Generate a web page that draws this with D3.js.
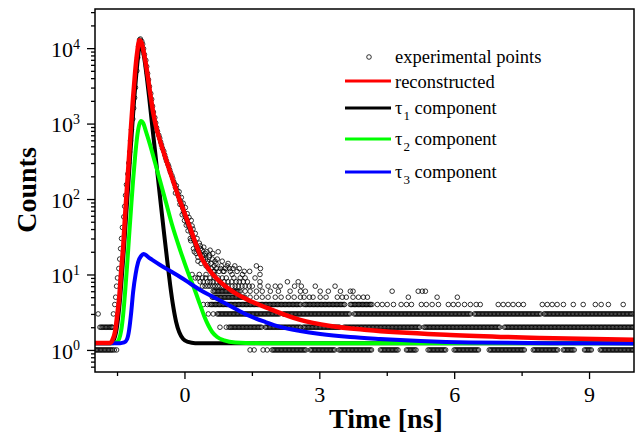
<!DOCTYPE html>
<html>
<head>
<meta charset="utf-8">
<script src="https://cdnjs.cloudflare.com/ajax/libs/d3/7.8.5/d3.min.js"></script>
<style>
body { margin: 0; background: #fff; }
text { font-family: "Liberation Serif", "Times New Roman", serif; }
</style>
</head>
<body>
<script>
const width = 642;
const height = 434;

// axis ticks
const xMajor = [0, 3, 6, 9];
const xMinor = [-1.5, 1.5, 4.5, 7.5];
const yMajor = [1, 10, 100, 1000, 10000];
const yMinor = [0.6, 0.7, 0.8, 0.9, 2, 3, 4, 5, 6, 7, 8, 9, 20, 30, 40, 50, 60, 70, 80, 90,
	200, 300, 400, 500, 600, 700, 800, 900, 2000, 3000, 4000, 5000, 6000, 7000, 8000, 9000, 20000, 30000];

// fitted curves [time ns, counts]
const reconstructed = [[-1.99,1.24],[-1.65,1.24],[-1.60,1.36],[-1.54,1.79],[-1.50,2.74],[-1.45,5.04],
	[-1.41,10.8],[-1.36,24.6],[-1.32,61.4],[-1.275,153],[-1.23,383],[-1.186,955],[-1.142,2244],
	[-1.097,4808],[-1.053,8590],[-1.002,12760],[-0.953,11650],[-0.897,8330],[-0.83,4808],[-0.763,2535],
	[-0.697,1420],[-0.63,899],[-0.541,586],[-0.407,329],[-0.274,190],[-0.14,110],[-0.007,67.3],
	[0.127,41.3],[0.263,24.6],[0.349,18.1],[0.572,11.1],[0.795,7.96],[1.084,5.86],[1.462,4.46],
	[1.84,3.6],[2.575,2.5],[3.245,2.08],[4.069,1.84],[5.916,1.58],[7.919,1.44],[10,1.36]];

const tau1 = [[-1.99,1.23],[-1.632,1.23],[-1.576,1.336],[-1.52,1.73],[-1.476,2.65],[-1.431,4.88],
	[-1.387,10.5],[-1.342,23.8],[-1.298,59.6],[-1.253,144],[-1.209,360],[-1.164,872],[-1.12,2047],
	[-1.075,4256],[-1.03,7834],[-0.99,11300],[-0.953,10620],[-0.919,8850],[-0.875,6140],[-0.83,3770],
	[-0.786,2244],[-0.719,955],[-0.652,419],[-0.585,178.6],[-0.519,78.3],[-0.452,34.4],[-0.385,15.6],
	[-0.318,7.26],[-0.252,3.83],[-0.185,2.35],[-0.118,1.73],[-0.029,1.40],[0.082,1.276],[0.238,1.23],[10,1.23]];

const tau2 = [[-1.99,1.23],[-1.587,1.23],[-1.498,1.276],[-1.453,1.399],[-1.409,1.785],[-1.364,2.908],
	[-1.32,5.86],[-1.275,13.36],[-1.231,32.4],[-1.186,78.3],[-1.142,178.6],[-1.097,371],[-1.053,663],
	[-1.008,955],[-0.964,1079],[-0.919,1016],[-0.852,771],[-0.763,519],[-0.652,300],[-0.541,173],
	[-0.407,88.5],[-0.274,45.2],[-0.096,21.1],[0.082,10.5],[0.238,6.04],[0.349,3.95],[0.438,2.82],
	[0.527,2.14],[0.617,1.73],[0.728,1.486],[0.884,1.336],[1.131,1.253],[1.687,1.23],[10,1.23]];

const tau3 = [[-1.99,1.23],[-1.431,1.23],[-1.342,1.257],[-1.275,1.399],[-1.231,1.84],[-1.186,3.09],
	[-1.142,5.86],[-1.086,10.15],[-1.03,14.64],[-0.964,17.58],[-0.913,18.69],[-0.763,16.3],[-0.541,13.36],
	[-0.318,11.12],[-0.096,9.27],[0.127,7.6],[0.349,6.23],[0.639,5.04],[1.017,3.83],[1.395,2.91],
	[1.796,2.35],[2.13,2.02],[2.575,1.785],[3.02,1.63],[3.688,1.486],[4.356,1.40],[5.246,1.316],
	[6.359,1.257],[8.14,1.23],[10,1.22]];

// experimental points along the peak [time ns, counts]
const expTrack = [[-1.61,2],[-1.58,3],[-1.55,4],[-1.53,5],[-1.51,7],[-1.49,9],[-1.46,12],[-1.44,16],
	[-1.42,22],[-1.40,30],[-1.38,42],[-1.35,58],[-1.33,80],[-1.31,112],[-1.29,155],[-1.26,215],
	[-1.24,300],[-1.22,420],[-1.20,590],[-1.18,830],[-1.15,1150],[-1.13,1600],[-1.11,2200],[-1.09,3000],
	[-1.06,5000],[-1.04,7500],[-1.02,10500],[-1.00,12800],[-0.98,13200],[-0.95,12300],[-0.93,11300],
	[-0.91,9800],[-0.89,8200],[-0.86,6900],[-0.84,5700],[-0.82,4600],[-0.80,3800],[-0.78,3100],
	[-0.75,2500],[-0.73,2100],[-0.71,1700],[-0.69,1420],[-0.66,1200],[-0.64,1020],[-0.62,880],
	[-0.60,790],[-0.57,700],[-0.55,640],[-0.53,570],[-0.51,520],[-0.49,470],[-0.46,430],[-0.44,385],
	[-0.42,350],[-0.40,320],[-0.37,290],[-0.35,270],[-0.33,245],[-0.31,225],[-0.28,205],[-0.26,188],
	[-0.24,170],[-0.22,158],[-0.20,142],[-0.17,132],[-0.15,118],[-0.13,108],[-0.11,97],[-0.08,90],
	[-0.06,82],[-0.04,76],[-0.02,68],[0.00,63],[0.03,57],[0.05,53],[0.07,48],[0.09,45],[0.12,41],
	[0.14,38],[0.16,35],[0.18,32],[0.20,29],[0.23,27],[0.25,25],[0.27,23],[0.29,22],[0.32,20],[0.34,19]];

// scattered experimental points in the decay
const expScatter = [[-0.18,150],[-0.12,125],[-0.07,105],[-0.03,88],[0.02,77],[0.06,64],[0.10,57],
	[0.15,52],[0.17,44],[0.13,30],[0.04,45],[-0.05,62],[0.19,40],[0.24,35],[0.26,19],[0.22,20],
	[0.28,30],[0.33,26],[0.35,24],[0.37,14],[0.39,21],[0.42,16],[0.44,18],[0.46,19],[0.48,13],
	[0.51,15],[0.53,12],[0.55,17],[0.57,21],[0.59,14],[0.62,16],[0.64,11],[0.66,13],[0.68,15],
	[0.71,12],[0.75,20],[0.77,11],[0.82,13],[0.86,11],[0.91,12],[0.97,14],[1.02,11],[1.08,12],
	[1.17,11],[1.33,11],[1.69,12],
	[-0.20,120],[-0.10,85],[0.00,52],[0.08,38],[0.14,28],[0.20,22],[0.30,15],
	[0.30,17],[0.36,22],[0.40,18],[0.43,23],[0.47,16],[0.50,20],[0.52,14],[0.56,18],[0.60,12],
	[0.63,19],[0.67,11],[0.70,14],[0.73,16],[0.80,12],[0.84,15],[0.88,11],[0.95,13],[1.00,12],
	[1.12,13],[1.22,12],[1.45,11],[1.60,13]];

// dense runs of points at one count level [counts, from ns, to ns]
const expRuns = [
	[1,-1.99,-1.60],[1,1.95,2.71],[1,2.80,3.35],[1,3.44,4.18],[1,4.36,4.76],[1,4.94,5.16],[1,5.42,5.82],
	[1,6.00,6.54],[1,6.78,7.58],[1,7.76,8.32],[1,8.43,8.68],[1,8.90,9.07],[1,9.25,10.0],
	[2,-1.88,-1.61],[2,0.99,1.73],[2,1.80,2.58],[2,2.64,3.47],[2,3.55,5.25],[2,5.33,7.03],[2,7.12,10.0],
	[3,0.73,2.13],[3,2.20,3.69],[3,3.78,6.36],[3,6.45,7.92],[3,8.00,10.0],
	[4,0.57,2.58],[4,2.66,3.58],[4,3.69,4.18],
	[5,0.62,1.35],
	[6,0.64,1.24]];
const channel = 0.03;

// isolated points at one count level [counts, times ns]
const expSingles = [
	[1,[-1.56,-1.51,1.46,1.55,1.75,1.84]],
	[2,[0.79,0.93]],
	[3,[-1.92,0.53,0.64]],
	[4,[0.42,0.51,4.29,4.40,4.51,4.65,4.82,4.94,5.05,5.27,5.38,5.51,5.65,5.87,5.98,6.09,6.23,6.36,
		6.49,6.58,6.98,7.09,7.20,7.31,7.43,7.54,7.96,8.07,8.18,8.29,8.43,8.65,8.87,9.14,9.27,9.43,9.76]],
	[5,[1.46,1.60,1.73,1.86,2.02,2.15,2.31,2.44,2.58,2.66,2.78,2.86,3.02,3.15,3.40,3.51,3.60,3.75,
		3.87,3.98,4.07,4.98,5.62,6.07]],
	[6,[1.35,1.46,1.60,1.73,1.91,2.09,2.35,2.58,2.69,3.02,3.20,3.47,3.69,3.75,4.62,5.20,5.29,5.36]],
	[7,[0.40,0.46,0.52,0.57,0.63,0.68,0.74,0.79,0.85,0.91,0.97,1.06,1.13,1.20,1.28,1.35,1.44,1.51,
		1.68,1.86,2.02,2.13,2.45,2.60,2.91,3.35]],
	[8,[0.35,0.42,0.51,0.57,0.64,0.72,0.79,0.88,0.97,1.05,1.15,1.22,1.31,1.40,1.68,2.29,2.53]],
	[9,[0.24,0.30,0.40,0.47,0.57,0.66,0.75,0.84,0.93,1.10,1.24,1.35,1.57]],
	[10,[0.17,0.33,0.48,0.66,1.06,1.29,1.68]]];

const series = [
	{name: "tau1", data: tau1, color: "#000000"},
	{name: "tau2", data: tau2, color: "#00ff00"},
	{name: "tau3", data: tau3, color: "#0000ff"},
	{name: "reconstructed", data: reconstructed, color: "#ff0000"}];

const serif = "'Liberation Serif', 'Times New Roman', serif";

const x = d3.scaleLinear().domain([-1.99, 10]).range([95, 634]);
const y = d3.scaleLog().domain([0.51, 33000]).range([372, 9]);

const svg = d3.select("body")
	.append("svg")
	.attr("width", width)
	.attr("height", height);

svg.append("clipPath")
	.attr("id", "plot")
	.append("rect")
	.attr("x", 95).attr("y", 9)
	.attr("width", 539).attr("height", 363);

// collect all experimental points
let points = expTrack.concat(expScatter);
expRuns.forEach(([c, t0, t1]) => {
	d3.range(t0, t1 + 1e-9, channel).forEach(t => points.push([t, c]));
});
expSingles.forEach(([c, ts]) => ts.forEach(t => points.push([t, c])));

const plot = svg.append("g").attr("clip-path", "url(#plot)");

plot.selectAll("circle")
	.data(points)
	.enter()
	.append("circle")
	.attr("cx", d => x(d[0]))
	.attr("cy", d => y(d[1]))
	.attr("r", 2.3)
	.style("fill", "none")
	.style("stroke", "#000")
	.style("stroke-width", 0.8);

const line = d3.line()
	.x(d => x(d[0]))
	.y(d => y(d[1]))
	.curve(d3.curveMonotoneX);

plot.selectAll("path.fit")
	.data(series)
	.enter()
	.append("path")
	.attr("class", "fit")
	.attr("d", d => line(d.data))
	.style("fill", "none")
	.style("stroke", d => d.color)
	.style("stroke-width", d => d.name === "reconstructed" ? 4.5 : 4)
	.style("stroke-linejoin", "round");

// axes
function styleAxis(g) {
	g.select(".domain").remove();
	g.selectAll("line").style("stroke", "#000").style("stroke-width", 1.3);
	g.attr("font-size", 22);
	g.selectAll("text").style("fill", "#000").style("font-family", serif);
}

svg.append("g")
	.attr("transform", "translate(0,372)")
	.call(d3.axisBottom(x).tickValues(xMajor).tickSize(7).tickPadding(7).tickFormat(d3.format("d")))
	.call(styleAxis);

svg.append("g")
	.attr("transform", "translate(0,372)")
	.call(d3.axisBottom(x).tickValues(xMinor).tickSize(4).tickFormat(""))
	.call(styleAxis);

const yAx = svg.append("g")
	.attr("transform", "translate(95,0)")
	.call(d3.axisLeft(y).tickValues(yMajor).tickSize(8).tickPadding(7).tickFormat(""))
	.call(styleAxis);

yAx.selectAll(".tick text")
	.attr("dy", "0.38em")
	.each(function(d) {
		const t = d3.select(this);
		t.append("tspan").text("10");
		t.append("tspan").attr("font-size", 14).attr("dy", "-0.6em").text(Math.round(Math.log10(d)));
	});

svg.append("g")
	.attr("transform", "translate(95,0)")
	.call(d3.axisLeft(y).tickValues(yMinor).tickSize(4).tickFormat(""))
	.call(styleAxis);

svg.append("rect")
	.attr("x", 95).attr("y", 9)
	.attr("width", 539).attr("height", 363)
	.style("fill", "none")
	.style("stroke", "#000")
	.style("stroke-width", 1.5);

// axis titles
svg.append("text")
	.attr("x", 386).attr("y", 428)
	.attr("text-anchor", "middle")
	.attr("font-size", 28)
	.attr("font-weight", "bold")
	.style("font-family", serif)
	.text("Time [ns]");

svg.append("text")
	.attr("transform", "translate(36,190) rotate(-90)")
	.attr("text-anchor", "middle")
	.attr("font-size", 28)
	.attr("font-weight", "bold")
	.style("font-family", serif)
	.text("Counts");

// legend
const legend = svg.append("g");
legend.append("circle")
	.attr("cx", 369).attr("cy", 57).attr("r", 2.3)
	.style("fill", "none").style("stroke", "#000").style("stroke-width", 0.8);
legend.append("text")
	.attr("x", 395).attr("y", 62.5)
	.attr("font-size", 18.5)
	.style("font-family", serif)
	.text("experimental points");

const legendRows = [
	{color: "#ff0000", ly: 81, ty: 87.5, label: "reconstructed", sub: null},
	{color: "#000000", ly: 108, ty: 114, label: "τ", sub: "1"},
	{color: "#00ff00", ly: 139, ty: 145, label: "τ", sub: "2"},
	{color: "#0000ff", ly: 172, ty: 178, label: "τ", sub: "3"}];

legendRows.forEach(r => {
	legend.append("line")
		.attr("x1", 345).attr("x2", 391)
		.attr("y1", r.ly).attr("y2", r.ly)
		.style("stroke", r.color)
		.style("stroke-width", 3);
	const t = legend.append("text")
		.attr("x", 395).attr("y", r.ty)
		.attr("font-size", 18.5)
		.style("font-family", serif);
	t.append("tspan").text(r.label);
	if (r.sub) {
		t.append("tspan").attr("font-size", 13).attr("dy", 6).attr("dx", 1).text(r.sub);
		t.append("tspan").attr("dy", -6).text(" component");
	}
});
</script>
</body>
</html>
